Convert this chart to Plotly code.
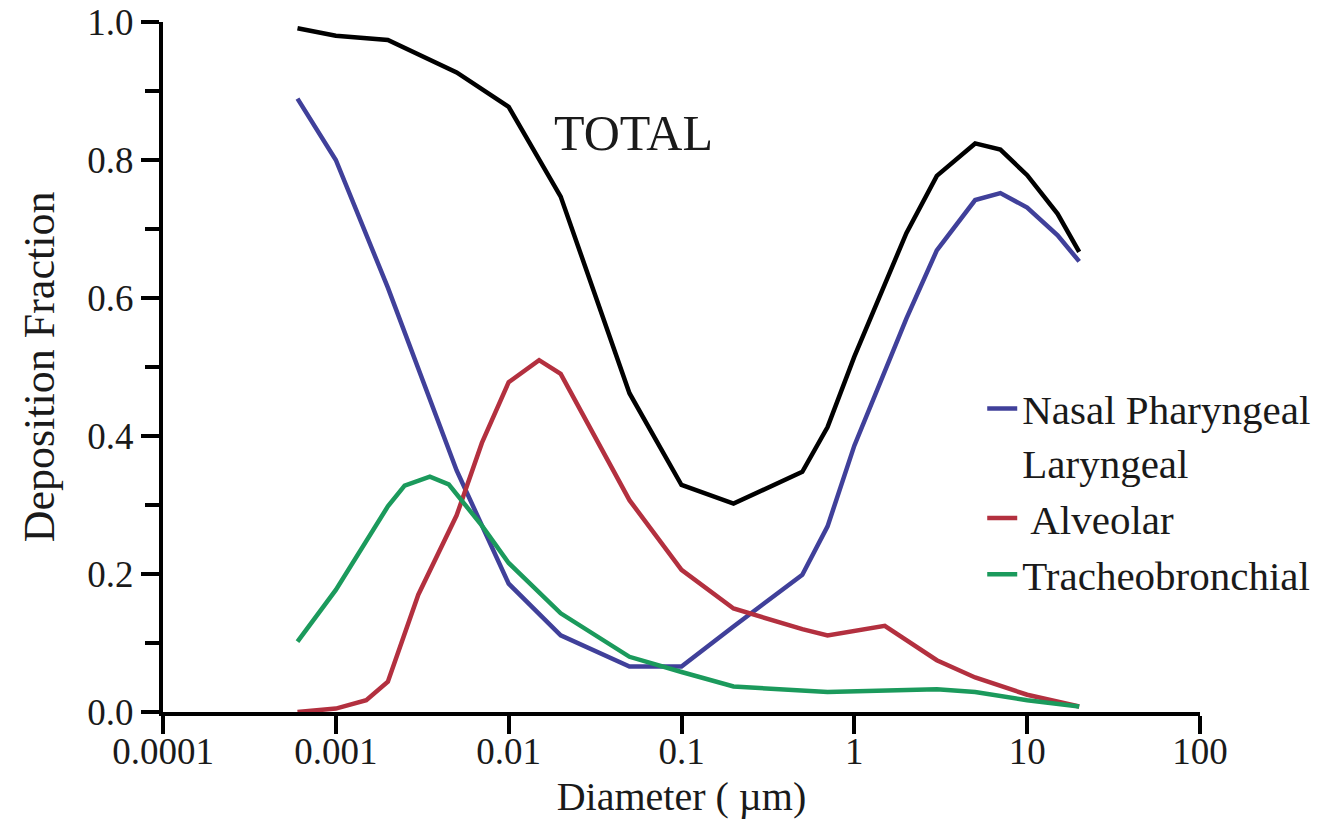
import plotly.graph_objects as go

# ---- data ----
total_x = [0.0006, 0.001, 0.002, 0.005, 0.01, 0.02, 0.05, 0.1, 0.2, 0.5, 0.7, 1, 2, 3, 5, 7, 10, 15, 20]
total_y = [0.991, 0.980, 0.974, 0.927, 0.877, 0.747, 0.462, 0.329, 0.302, 0.348, 0.413, 0.515, 0.694, 0.777, 0.824, 0.815, 0.778, 0.722, 0.667]

nasal_x = [0.0006, 0.001, 0.002, 0.005, 0.01, 0.02, 0.05, 0.1, 0.2, 0.5, 0.7, 1, 2, 3, 5, 7, 10, 15, 20]
nasal_y = [0.889, 0.800, 0.615, 0.350, 0.186, 0.111, 0.066, 0.066, 0.124, 0.199, 0.269, 0.386, 0.570, 0.669, 0.742, 0.752, 0.731, 0.691, 0.653]

alv_x = [0.0006, 0.001, 0.0015, 0.002, 0.003, 0.005, 0.007, 0.01, 0.015, 0.02, 0.05, 0.1, 0.2, 0.5, 0.7, 1, 1.5, 3, 5, 10, 20]
alv_y = [0.0, 0.005, 0.017, 0.044, 0.170, 0.285, 0.390, 0.478, 0.510, 0.490, 0.307, 0.206, 0.150, 0.120, 0.111, 0.118, 0.125, 0.075, 0.050, 0.025, 0.008]

tb_x = [0.0006, 0.001, 0.002, 0.0025, 0.0035, 0.0045, 0.007, 0.01, 0.02, 0.05, 0.1, 0.2, 0.7, 1.5, 3, 5, 10, 20]
tb_y = [0.102, 0.177, 0.298, 0.328, 0.341, 0.330, 0.270, 0.216, 0.143, 0.080, 0.058, 0.037, 0.029, 0.031, 0.033, 0.029, 0.017, 0.008]

x_tickvals = [0.0001, 0.001, 0.01, 0.1, 1, 10, 100]
x_ticktext = ["0.0001", "0.001", "0.01", "0.1", "1", "10", "100"]
y_tickvals = [0.0, 0.2, 0.4, 0.6, 0.8, 1.0]
y_ticktext = ["0.0", "0.2", "0.4", "0.6", "0.8", "1.0"]

names = ["Nasal Pharyngeal<br>Laryngeal", " Alveolar", "Tracheobronchial"]
colors = {"total": "#000000", "nasal": "#40409a", "alv": "#b3303f", "tb": "#1b9a5c"}

FONT = "Liberation Serif"
TXT = "#1a1a1a"
LW = 4.5

fig = go.Figure()
fig.add_trace(go.Scatter(x=total_x, y=total_y, mode="lines", name="TOTAL", showlegend=False,
                         line=dict(color=colors["total"], width=LW)))
fig.add_trace(go.Scatter(x=nasal_x, y=nasal_y, mode="lines", name=names[0],
                         line=dict(color=colors["nasal"], width=LW)))
fig.add_trace(go.Scatter(x=alv_x, y=alv_y, mode="lines", name=names[1],
                         line=dict(color=colors["alv"], width=LW)))
fig.add_trace(go.Scatter(x=tb_x, y=tb_y, mode="lines", name=names[2],
                         line=dict(color=colors["tb"], width=LW)))

fig.add_annotation(x=-1.28, y=0.839, xref="x", yref="y", text="TOTAL", showarrow=False,
                   font=dict(family=FONT, size=50, color=TXT))

fig.update_layout(
    width=1329, height=829,
    margin=dict(l=163, r=129, t=22, b=117),
    paper_bgcolor="white", plot_bgcolor="white",
    font=dict(family=FONT, color=TXT),
    legend=dict(x=0.79, y=0.488, xanchor="left", yanchor="top", valign="top",
                font=dict(family=FONT, size=41, color=TXT), bgcolor="rgba(0,0,0,0)",
                itemwidth=30),
)
fig.update_xaxes(type="log", range=[-4, 2], showgrid=False, zeroline=False, automargin=False,
                 showline=True, linecolor="black", linewidth=4,
                 ticks="outside", ticklen=18, tickwidth=4, tickcolor="black",
                 tickvals=x_tickvals, ticktext=x_ticktext, ticklabelstandoff=-14,
                 tickfont=dict(family=FONT, size=37, color=TXT),
                 title=dict(text="Diameter ( µm)", font=dict(family=FONT, size=40, color=TXT), standoff=12))
fig.update_yaxes(range=[0, 1], showgrid=False, zeroline=False, automargin=False,
                 showline=True, linecolor="black", linewidth=4,
                 ticks="outside", ticklen=18, tickwidth=4, tickcolor="black",
                 tickvals=y_tickvals, ticktext=y_ticktext, ticklabeloverflow="allow",
                 minor=dict(dtick=0.1, ticks="outside", ticklen=14, tickwidth=4, tickcolor="black"),
                 tickfont=dict(family=FONT, size=37, color=TXT),
                 title=dict(text="Deposition Fraction", font=dict(family=FONT, size=44, color=TXT), standoff=20))

# remove the default 8px page margin so the figure fills the window exactly
fig.write_html("out.html", config={"displayModeBar": False},
               post_script="document.body.style.margin='0';document.body.style.overflow='hidden';")
